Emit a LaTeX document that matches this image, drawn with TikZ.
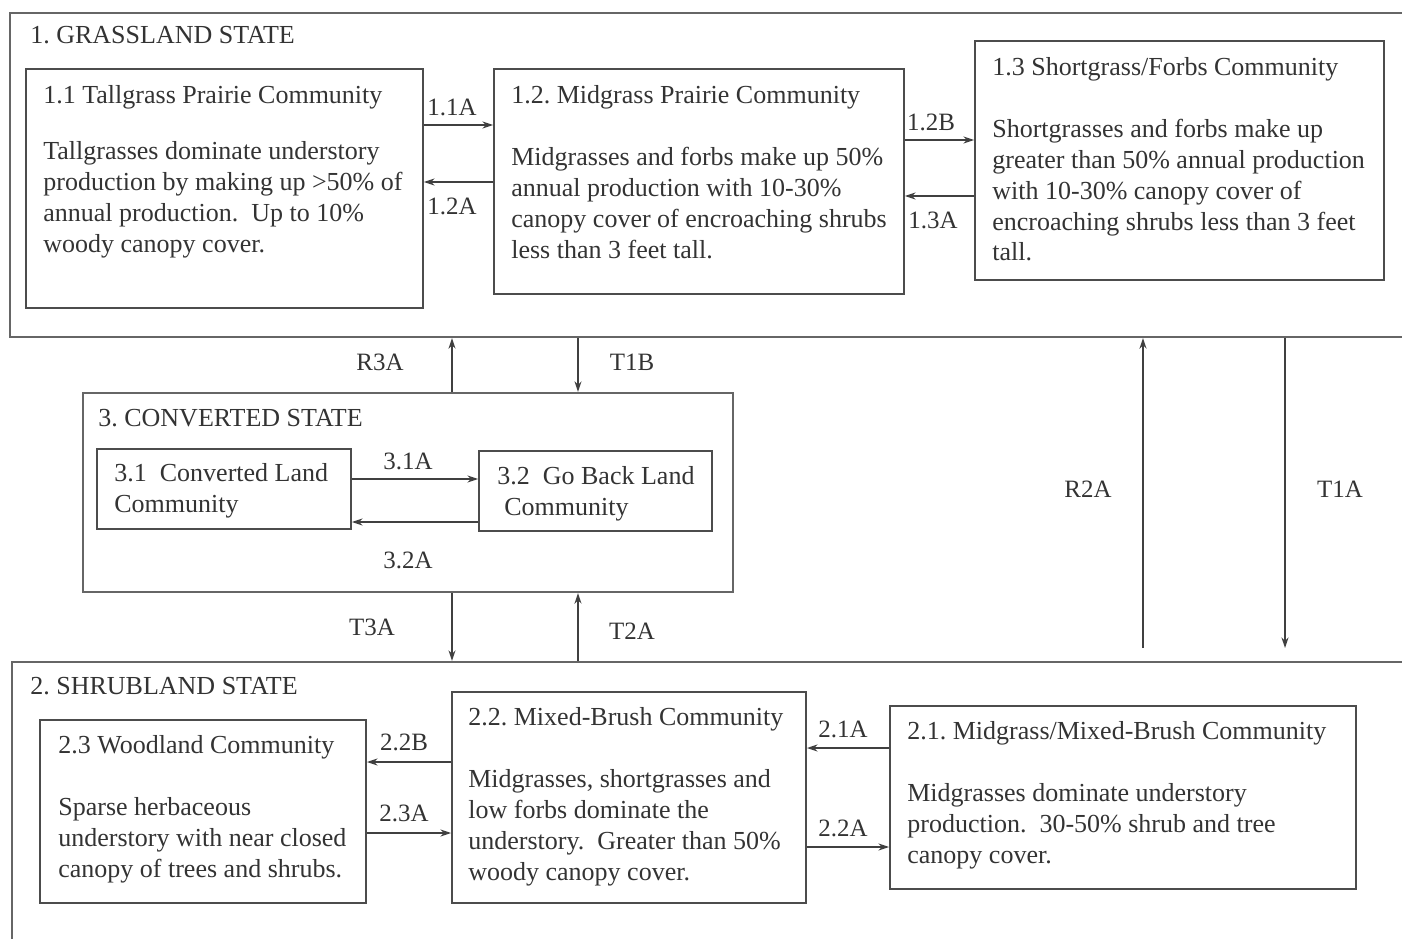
\documentclass[tikz,border=0pt]{standalone}
\usepackage{fontspec}
\setmainfont{Liberation Serif}
\usetikzlibrary{arrows.meta,fit}
\frenchspacing

\begin{document}
\begin{tikzpicture}[x=0.02cm,y=-0.02cm,
  state/.style={draw=black!60,line width=1.3pt,inner sep=0pt},
  comm/.style={draw=black!70,line width=1.1pt,inner sep=0pt},
  txt/.style={anchor=north west,align=left,inner sep=0pt,text=black!80,
    font=\fontsize{14.8}{17.6}\selectfont},
  lbl/.style={inner sep=0pt,text=black!80,font=\fontsize{14.2}{17}\selectfont},
  arr/.style={-{Stealth[length=6pt,width=4pt]},draw=black!75,line width=0.9pt}]
\useasboundingbox (0,0) rectangle (1402,939);
\clip (0,0) rectangle (1402,939);

\node (S1) [state,fit={(10,13) (1420,337)}] {};
\node (S3) [state,fit={(83,393) (733,592)}] {};
\node (S2) [state,fit={(12,662) (1420,960)}] {};
\node (t1) at (30,26) [txt] {1. GRASSLAND STATE};
\node (t3) at (98,409) [txt] {3. CONVERTED STATE};
\node (t2) at (30,677) [txt] {2. SHRUBLAND STATE};

\node (B11) [comm,fit={(26,69) (423,308)}] {};
\node (B12) [comm,fit={(494,69) (904,294)}] {};
\node (B13) [comm,fit={(975,41) (1384,280)}] {};
\node (x11) at (43,85) [txt] {1.1 Tallgrass Prairie Community\\[0.5cm]
  Tallgrasses dominate understory\\ production by making up >50\% of\\
  annual production.~ Up to 10\%\\ woody canopy cover.};
\node (x12) at (511,85) [txt] {1.2. Midgrass Prairie Community\\[0.62cm]
  Midgrasses and forbs make up 50\%\\ annual production with 10-30\%\\
  canopy cover of encroaching shrubs\\ less than 3 feet tall.};
\node (x13) at (992,57) [txt] {1.3 Shortgrass/Forbs Community\\[0.62cm]
  Shortgrasses and forbs make up\\ greater than 50\% annual production\\
  with 10-30\% canopy cover of\\ encroaching shrubs less than 3 feet\\ tall.};

\node (B31) [comm,fit={(97,449) (351,529)}] {};
\node (B32) [comm,fit={(479,451) (712,531)}] {};
\node (x31) at (114,463) [txt] {3.1~ Converted Land\\ Community};
\node (x32) at (497,466) [txt] {3.2~ Go Back Land\\ \hspace{0.14cm}Community};

\node (B23) [comm,fit={(40,720) (366,903)}] {};
\node (B22) [comm,fit={(452,692) (806,903)}] {};
\node (B21) [comm,fit={(890,706) (1356,889)}] {};
\node (x23) at (58,735) [txt] {2.3 Woodland Community\\[0.62cm]
  Sparse herbaceous\\ understory with near closed\\ canopy of trees and shrubs.};
\node (x22) at (468,707) [txt] {2.2. Mixed-Brush Community\\[0.62cm]
  Midgrasses, shortgrasses and\\ low forbs dominate the\\
  understory.~ Greater than 50\%\\ woody canopy cover.};
\node (x21) at (907,721) [txt] {2.1. Midgrass/Mixed-Brush Community\\[0.62cm]
  Midgrasses dominate understory\\ production.~ 30-50\% shrub and tree\\
  canopy cover.};

\coordinate (y11) at (0,125);
\coordinate (y12) at (0,182);
\coordinate (y12b) at (0,140);
\coordinate (y13) at (0,196);
\coordinate (y31) at (0,479);
\coordinate (y32) at (0,522);
\coordinate (y22b) at (0,762);
\coordinate (y23) at (0,833);
\coordinate (y21) at (0,748);
\coordinate (y22) at (0,847);
\draw[arr] (y11 -| B11.east) -- (y11 -| B12.west);
\draw[arr] (y12 -| B12.west) -- (y12 -| B11.east);
\draw[arr] (y12b -| B12.east) -- (y12b -| B13.west);
\draw[arr] (y13 -| B13.west) -- (y13 -| B12.east);
\draw[arr] (y31 -| B31.east) -- (y31 -| B32.west);
\draw[arr] (y32 -| B32.west) -- (y32 -| B31.east);
\draw[arr] (y22b -| B22.west) -- (y22b -| B23.east);
\draw[arr] (y23 -| B23.east) -- (y23 -| B22.west);
\draw[arr] (y21 -| B21.west) -- (y21 -| B22.east);
\draw[arr] (y22 -| B22.east) -- (y22 -| B21.west);

\node (l11) at (452,107) [lbl] {1.1A};
\node (l12) at (452,206) [lbl] {1.2A};
\node (l12b) at (931,122) [lbl] {1.2B};
\node (l13) at (933,220) [lbl] {1.3A};
\node (l31) at (408,461) [lbl] {3.1A};
\node (l32) at (408,560) [lbl] {3.2A};
\node (l22b) at (404,742) [lbl] {2.2B};
\node (l23) at (404,813) [lbl] {2.3A};
\node (l21) at (843,729) [lbl] {2.1A};
\node (l22) at (843,828) [lbl] {2.2A};

\coordinate (xl) at (452,0);
\coordinate (xr) at (578,0);
\coordinate (r2) at (1143,648);
\coordinate (t1a) at (1285,648);
\draw[arr] (xl |- S3.north) -- (xl |- S1.south);
\draw[arr] (xr |- S1.south) -- (xr |- S3.north);
\draw[arr] (xl |- S3.south) -- (xl |- S2.north);
\draw[arr] (xr |- S2.north) -- (xr |- S3.south);
\draw[arr] (r2) -- (r2 |- S1.south);
\draw[arr] (t1a |- S1.south) -- (t1a);

\node (lr3) at (380,362) [lbl] {R3A};
\node (lt1b) at (632,362) [lbl] {T1B};
\node (lt3) at (372,627) [lbl] {T3A};
\node (lt2) at (632,631) [lbl] {T2A};
\node (lr2) at (1088,489) [lbl] {R2A};
\node (lt1a) at (1340,489) [lbl] {T1A};
\end{tikzpicture}
\end{document}
